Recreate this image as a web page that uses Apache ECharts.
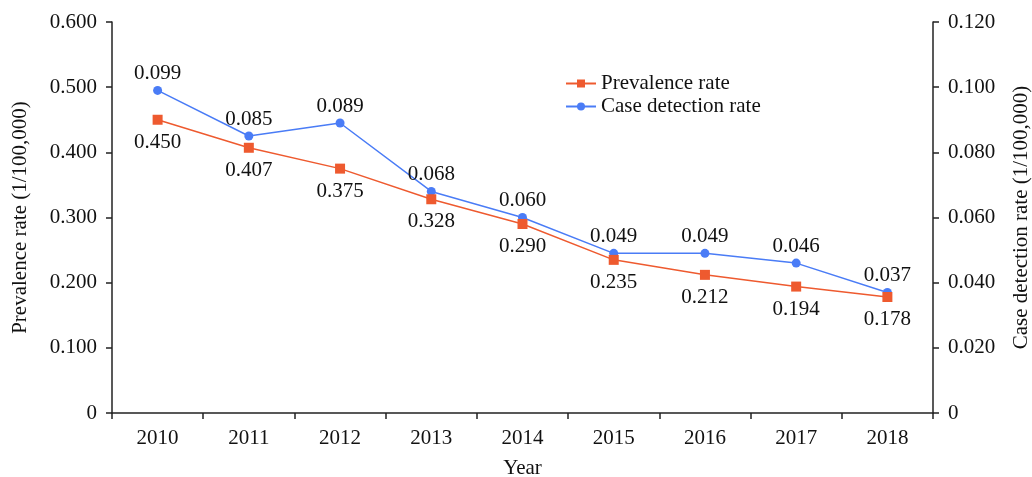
<!DOCTYPE html>
<html>
<head>
<meta charset="utf-8">
<script src="https://cdn.jsdelivr.net/npm/echarts@6/dist/echarts.min.js"></script>
<style>html,body{margin:0;padding:0;background:#fff}#c{width:1032px;height:477px}</style>
</head>
<body>
<div id="c"></div>
<script>
const years = ['2010','2011','2012','2013','2014','2015','2016','2017','2018'];
const prevalence = [0.450, 0.407, 0.375, 0.328, 0.290, 0.235, 0.212, 0.194, 0.178];
const detection = [0.099, 0.085, 0.089, 0.068, 0.060, 0.049, 0.049, 0.046, 0.037];

const font = '"Liberation Serif", "Times New Roman", serif';
const FS = 21;
const orange = '#EE5A2F';
const blue = '#4A7CF6';
const fmtL = v => v === 0 ? '0' : v.toFixed(3);

const chart = echarts.init(document.getElementById('c'));
chart.setOption({
  animation: false,
  textStyle: { fontFamily: font, color: '#111' },
  grid: { left: 112, right: 99, top: 22, bottom: 64, outerBoundsMode: 'none', containLabel: false },
  legend: {
    left: 560, top: 68, orient: 'vertical', itemGap: 2,
    itemWidth: 30, itemHeight: 10,
    textStyle: { fontFamily: font, fontSize: FS, color: '#111' },
    data: ['Prevalence rate', 'Case detection rate']
  },
  xAxis: {
    type: 'category', data: years, boundaryGap: true,
    name: 'Year', nameLocation: 'middle', nameGap: 45,
    nameTextStyle: { fontFamily: font, fontSize: FS, color: '#111' },
    axisLine: { lineStyle: { color: '#222', width: 1.5 } },
    axisTick: { show: true, length: 6, lineStyle: { color: '#222', width: 1.5 } },
    axisLabel: { fontFamily: font, fontSize: FS, color: '#111', margin: 15 }
  },
  yAxis: [
    {
      type: 'value', min: 0, max: 0.6, interval: 0.1, position: 'left',
      name: 'Prevalence rate (1/100,000)', nameLocation: 'middle', nameGap: 81,
      nameTextStyle: { fontFamily: font, fontSize: FS, color: '#111' },
      axisLine: { show: true, lineStyle: { color: '#222', width: 1.5 } },
      axisTick: { show: true, length: 6, lineStyle: { color: '#222', width: 1.5 } },
      axisLabel: { fontFamily: font, fontSize: FS, color: '#111', margin: 15, formatter: fmtL },
      splitLine: { show: false }
    },
    {
      type: 'value', min: 0, max: 0.12, interval: 0.02, position: 'right',
      name: 'Case detection rate (1/100,000)', nameLocation: 'middle', nameGap: 78, nameRotate: 90,
      nameTextStyle: { fontFamily: font, fontSize: FS, color: '#111' },
      axisLine: { show: true, lineStyle: { color: '#222', width: 1.5 } },
      axisTick: { show: true, length: 6, lineStyle: { color: '#222', width: 1.5 } },
      axisLabel: { fontFamily: font, fontSize: FS, color: '#111', margin: 15, formatter: fmtL },
      splitLine: { show: false }
    }
  ],
  series: [
    {
      name: 'Prevalence rate', type: 'line', yAxisIndex: 0, data: prevalence, z: 3,
      symbol: 'rect', symbolSize: 10,
      lineStyle: { color: orange, width: 1.5 }, itemStyle: { color: orange },
      label: { show: true, position: 'bottom', distance: 7, fontFamily: font, fontSize: FS, color: '#111', formatter: p => p.value.toFixed(3) }
    },
    {
      name: 'Case detection rate', type: 'line', yAxisIndex: 1, data: detection, z: 2,
      symbol: 'circle', symbolSize: 9,
      lineStyle: { color: blue, width: 1.5 }, itemStyle: { color: blue },
      label: { show: true, position: 'top', distance: 2, fontFamily: font, fontSize: FS, color: '#111', formatter: p => p.value.toFixed(3) }
    }
  ]
});
</script>
</body>
</html>
